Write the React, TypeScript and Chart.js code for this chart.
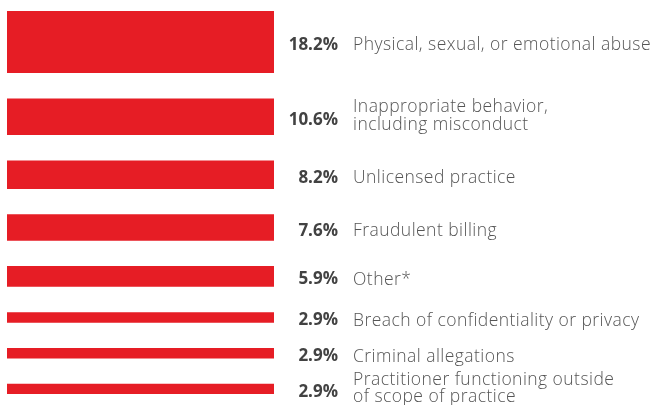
import React, { useEffect, useRef } from "react";
import { Chart, registerables } from "chart.js";

Chart.register(...registerables);

const categories: string[][] = [
  ["Physical, sexual, or emotional abuse"],
  ["Inappropriate behavior,", "including misconduct"],
  ["Unlicensed practice"],
  ["Fraudulent billing"],
  ["Other*"],
  ["Breach of confidentiality or privacy"],
  ["Criminal allegations"],
  ["Practitioner functioning outside", "of scope of practice"],
];
const values: number[] = [18.2, 10.6, 8.2, 7.6, 5.9, 2.9, 2.9, 2.9];
const valueLabels: string[] = ["18.2%", "10.6%", "8.2%", "7.6%", "5.9%", "2.9%", "2.9%", "2.9%"];

const RED = "#E61D25";
const GAP = 7.66;
const FONT = "'Open Sans', Lato, sans-serif";

export default function App() {
  const ref = useRef<HTMLCanvasElement>(null);
  useEffect(() => {
    if (!ref.current) return;
    const datasets: any[] = [];
    values.forEach((v, i) => {
      datasets.push({
        label: categories[i].join(" "),
        data: [v],
        backgroundColor: RED,
        stack: "s",
        isReal: true,
        idx: i,
      });
      if (i < values.length - 1) {
        datasets.push({
          label: "gap" + i,
          data: [GAP],
          backgroundColor: "rgba(0,0,0,0)",
          stack: "s",
          isReal: false,
        });
      }
    });
    const total = values.reduce((a, b) => a + b, 0) + GAP * (values.length - 1);

    const labelPlugin = {
      id: "labels",
      afterDatasetsDraw(chart: any) {
        const ctx = chart.ctx;
        ctx.save();
        chart.data.datasets.forEach((ds: any, di: number) => {
          if (!ds.isReal) return;
          const el = chart.getDatasetMeta(di).data[0];
          const yc = (el.y + el.base) / 2;
          const xr = el.x + el.width / 2;
          ctx.textBaseline = "alphabetic";
          ctx.letterSpacing = "0px";
          ctx.font = `bold 17px ${FONT}`;
          ctx.fillStyle = "#424242";
          ctx.textAlign = "right";
          ctx.fillText(valueLabels[ds.idx], xr + 64, yc + 8);
          ctx.font = `300 17.5px ${FONT}`;
          ctx.letterSpacing = "0.45px";
          ctx.fillStyle = "#555555";
          ctx.textAlign = "left";
          const lines = categories[ds.idx];
          if (lines.length === 1) {
            ctx.fillText(lines[0], xr + 79, yc + 8.5);
          } else {
            ctx.fillText(lines[0], xr + 79, yc - 4.5);
            ctx.fillText(lines[1], xr + 79, yc + 13);
          }
        });
        ctx.restore();
      },
    };

    const chart = new Chart(ref.current, {
      type: "bar",
      data: { labels: [""], datasets },
      options: {
        responsive: false,
        animation: false,
        layout: { padding: { top: 11, bottom: 11, left: 7, right: 378 } },
        datasets: { bar: { categoryPercentage: 1, barPercentage: 1 } },
        plugins: { legend: { display: false }, tooltip: { enabled: false } },
        scales: {
          x: { display: false, stacked: true },
          y: { display: false, stacked: true, reverse: true, min: 0, max: total },
        },
      },
      plugins: [labelPlugin],
    } as any);
    return () => chart.destroy();
  }, []);
  return (
    <div style={{ position: "absolute", left: 0, top: 0, width: 652, height: 405 }}>
      <canvas ref={ref} width={652} height={405} style={{ display: "block" }} />
    </div>
  );
}
